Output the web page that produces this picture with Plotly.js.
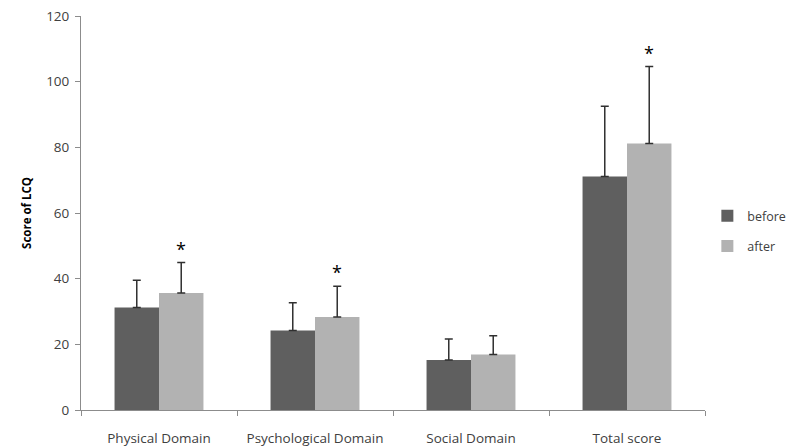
<!DOCTYPE html>
<html>
<head>
<meta charset="utf-8">
<script src="https://cdn.plot.ly/plotly-3.0.1.min.js"></script>
<style>html,body{margin:0;padding:0;background:#fff;}#chart{width:793px;height:447px;}</style>
</head>
<body>
<div id="chart"></div>
<script>
const categories = ["Physical Domain", "Psychological Domain", "Social Domain", "Total score"];
const beforeValues = [31.2, 24.2, 15.2, 71.1];
const beforeErrors = [8.3, 8.5, 6.4, 21.4];
const afterValues = [35.6, 28.3, 16.9, 81.2];
const afterErrors = [9.3, 9.4, 5.7, 23.4];
const noLowerError = [0, 0, 0, 0];
const significant = [true, true, false, true];
const yTicks = [0, 20, 40, 60, 80, 100, 120];

const font = {family: "Open Sans, sans-serif", size: 13.5, color: "#404040"};

const traces = [
  {
    type: "bar", name: "before", x: categories, y: beforeValues, legendgroup: "g1",
    marker: {color: "#5f5f5f"},
    error_y: {type: "data", symmetric: false, array: beforeErrors, arrayminus: noLowerError,
      color: "#303030", thickness: 1.5, width: 4}
  },
  {
    type: "bar", name: "after", x: categories, y: afterValues, legendgroup: "g2",
    marker: {color: "#b2b2b2"},
    error_y: {type: "data", symmetric: false, array: afterErrors, arrayminus: noLowerError,
      color: "#303030", thickness: 1.5, width: 4}
  }
];

const annotations = [];
categories.forEach((c, i) => {
  if (significant[i]) {
    annotations.push({
      x: c, y: afterValues[i] + afterErrors[i], xref: "x", yref: "y",
      text: "*", showarrow: false, xshift: 22, yanchor: "bottom", yshift: 0,
      font: {family: "Open Sans, sans-serif", size: 18, color: "#000"}
    });
  }
});

const layout = {
  width: 793, height: 447,
  margin: {l: 81, r: 88, t: 16, b: 37, pad: 0},
  paper_bgcolor: "#fff", plot_bgcolor: "#fff",
  font: font,
  barmode: "group", bargap: 0.43, bargroupgap: 0,
  showlegend: true,
  legend: {xref: "container", x: 0.892, xanchor: "left", yref: "container", y: 0.483, yanchor: "middle",
    font: {family: "Open Sans, sans-serif", size: 12.5, color: "#404040"},
    itemwidth: 30, tracegroupgap: 11, traceorder: "grouped", bgcolor: "rgba(0,0,0,0)"},
  xaxis: {
    type: "category", showline: true, linecolor: "#8c8c8c", linewidth: 1,
    ticks: "outside", tickson: "boundaries", ticklen: 5, tickcolor: "#8c8c8c",
    ticklabelstandoff: 16,
    showgrid: false, zeroline: false, tickfont: font
  },
  yaxis: {
    range: [0, 120], tickvals: yTicks, ticktext: yTicks.map(String),
    showline: true, linecolor: "#8c8c8c", linewidth: 1,
    ticks: "outside", ticklen: 5, tickcolor: "#8c8c8c",
    ticklabelstandoff: 3,
    showgrid: false, zeroline: false, tickfont: font,
    title: {text: "<b>Score of LCQ</b>", font: {family: "Open Sans, sans-serif", size: 11.5, color: "#000"}, standoff: 12}
  },
  annotations: annotations
};

Plotly.newPlot("chart", traces, layout, {displayModeBar: false, staticPlot: true});
</script>
</body>
</html>
